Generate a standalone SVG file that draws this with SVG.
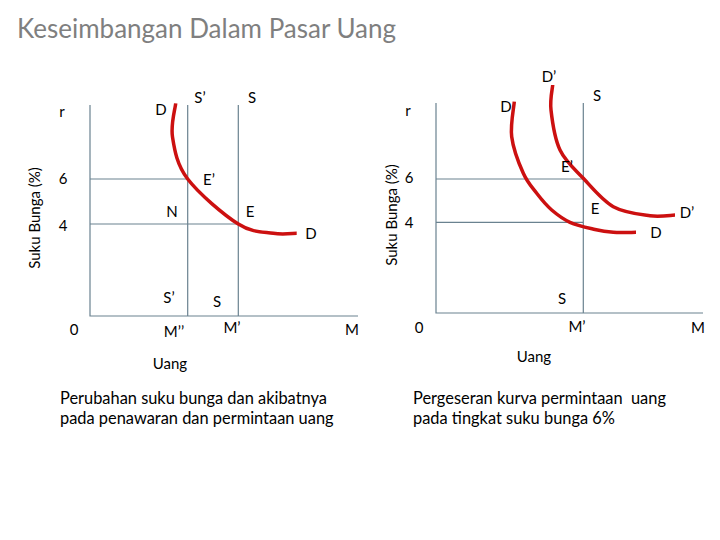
<svg xmlns="http://www.w3.org/2000/svg" width="720" height="540" viewBox="0 0 720 540">
<style>
.ax{stroke:#6a8290;stroke-width:1.2;fill:none}
.cv{stroke:#cc1010;stroke-width:3.5;fill:none;stroke-linecap:butt}
text{font-family:Lato,"Open Sans","Liberation Sans",sans-serif;fill:#000}
.l{font-size:15px;text-anchor:middle}
.t{font-size:26px;fill:#7f7f7f}
.b{font-size:16.4px;white-space:pre}
</style>
<rect width="720" height="540" fill="#fff"/>
<text class="t" x="17" y="38">Keseimbangan Dalam Pasar Uang</text>
<g id="connectors">
<path class="ax" d="M90,105V316H358"/>
<path class="ax" d="M90,179H187.7M90,224H238.3M187.7,105V316M238.3,105V316"/>
<path class="ax" d="M436,103V313H703"/>
<path class="ax" d="M436,179H583.3M436,222.3H583.3M583.3,103V313"/>
</g>
<g id="curve-left-D">
<path class="cv" d="M175.7,103.3C175.2,108.9 170.5,124.4 172.5,137C174.5,149.6 176.7,164.5 187.7,179C198.7,193.5 224,215 238.3,224C252.6,233.1 263.6,231.8 273.3,233.3C283,234.9 292.8,233.3 296.7,233.3"/>
</g>
<g id="curve-right-D">
<path class="cv" d="M514.3,101.7C513.9,107.5 510.2,124.8 511.7,136.7C513.2,148.6 519.1,163.9 523.3,173.3C527.5,182.7 532,187.2 536.7,193.3C541.4,199.4 546.1,205.2 551.7,210C557.3,214.8 562.8,219 570,222.3C577.2,225.6 587.8,227.8 595,229.5C602.2,231.2 606.5,231.8 613.3,232.3C620.1,232.8 632.2,232.3 636,232.3"/>
</g>
<g id="curve-right-Dp">
<path class="cv" d="M552.7,85C552.4,89.2 549.8,99.2 551,110C552.2,120.8 554.6,138.6 560,150C565.4,161.4 574.4,168.8 583.3,178.3C592.2,187.8 602.2,200.5 613.3,206.7C624.4,212.9 639.7,214.3 650,215.7C660.3,217.1 670.8,215.1 675,215"/>
</g>
<g id="labels-left">
<text class="l" x="62" y="117">r</text>
<text class="l" x="161" y="115">D</text>
<text class="l" x="200" y="103">S’</text>
<text class="l" x="252" y="103">S</text>
<text class="l" x="63" y="184">6</text>
<text class="l" x="209" y="185">E’</text>
<text class="l" x="172" y="217">N</text>
<text class="l" x="250" y="217">E</text>
<text class="l" x="63" y="231">4</text>
<text class="l" x="311" y="239">D</text>
<text class="l" x="169" y="303">S’</text>
<text class="l" x="217" y="307">S</text>
<text class="l" x="74" y="335">0</text>
<text class="l" x="174" y="337">M’’</text>
<text class="l" x="232" y="333">M’</text>
<text class="l" x="352" y="335">M</text>
<text class="l" transform="translate(40,218) rotate(-90)">Suku Bunga (%)</text>
<text class="l" x="170" y="369">Uang</text>
</g>
<g id="labels-right">
<text class="l" x="408" y="116">r</text>
<text class="l" x="549" y="82">D’</text>
<text class="l" x="597" y="101">S</text>
<text class="l" x="506" y="112">D</text>
<text class="l" x="567" y="172">E’</text>
<text class="l" x="409" y="183">6</text>
<text class="l" x="595" y="214">E</text>
<text class="l" x="687" y="218">D’</text>
<text class="l" x="409" y="228">4</text>
<text class="l" x="656" y="238">D</text>
<text class="l" x="562" y="304">S</text>
<text class="l" x="419" y="333">0</text>
<text class="l" x="577" y="332">M’</text>
<text class="l" x="698" y="333">M</text>
<text class="l" transform="translate(397,215) rotate(-90)">Suku Bunga (%)</text>
<text class="l" x="534" y="362">Uang</text>
</g>
<g id="captions">
<text class="b" x="60" y="404">Perubahan suku bunga dan akibatnya</text>
<text class="b" x="60" y="424">pada penawaran dan permintaan uang</text>
<text class="b" x="413" y="404">Pergeseran kurva permintaan  uang</text>
<text class="b" x="413" y="424">pada tingkat suku bunga 6%</text>
</g>
</svg>
